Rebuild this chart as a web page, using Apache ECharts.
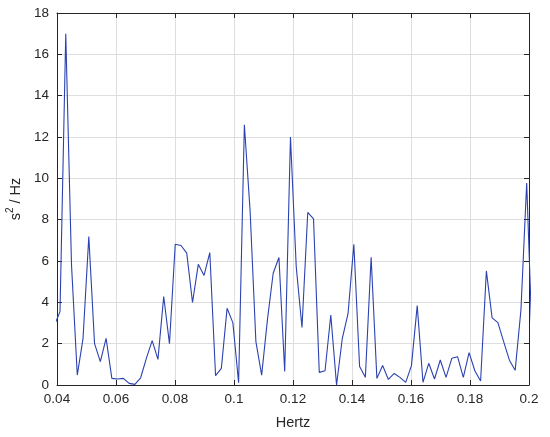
<!DOCTYPE html>
<html>
<head>
<meta charset="utf-8">
<script src="https://cdn.jsdelivr.net/npm/echarts@6/dist/echarts.min.js"></script>
<style>
  html, body { margin: 0; padding: 0; background: #fff; }
  #chart { width: 550px; height: 437px; }
</style>
</head>
<body>
<div id="chart"></div>
<script>
// spectrum bins: frequency = bin / 512 Hz
var binWidth = 1 / 512
var firstBin = 20
var psd = [
  2.87, 3.55, 17.0, 5.8, 0.48, 2.26, 7.18, 2.0, 1.13, 2.26,
  0.32, 0.29, 0.32, 0.08, 0.03, 0.35, 1.3, 2.15, 1.24, 4.28,
  2.0, 6.81, 6.75, 6.38, 3.99, 5.84, 5.3, 6.41, 0.45, 0.8,
  3.71, 3.02, 0.11, 12.59, 8.4, 2.1, 0.48, 3.15, 5.41, 6.17,
  0.65, 12.0, 5.73, 2.78, 8.35, 8.04, 0.61, 0.69, 3.39, 0.0,
  2.26, 3.47, 6.81, 0.89, 0.37, 6.18, 0.32, 0.94, 0.27, 0.56,
  0.37, 0.13, 0.94, 3.84, 0.13, 1.05, 0.29, 1.21, 0.37, 1.29,
  1.37, 0.37, 1.57, 0.69, 0.19, 5.52, 3.25, 3.02, 2.1, 1.2,
  0.71, 3.63, 9.77, 1.7
]
var xTicks = [0.04, 0.06, 0.08, 0.1, 0.12, 0.14, 0.16, 0.18, 0.2]
var yTicks = [0, 2, 4, 6, 8, 10, 12, 14, 16, 18]

var points = psd.map(function(v, i) {
  return [(firstBin + i) * binWidth, v]
})

var chart = echarts.init(document.getElementById('chart'))
var font = 'Arial, "Liberation Sans", Helvetica, sans-serif'
var axisColor = '#262626'
var gridColor = '#dedede'

function xAxisBase(pos) {
  return {
    type: 'value',
    position: pos,
    min: xTicks[0],
    max: xTicks[xTicks.length - 1],
    interval: 0.02,
    axisLine: { show: true, onZero: false, lineStyle: { color: axisColor, width: 1 } },
    axisTick: { show: true, inside: true, length: 5, lineStyle: { color: axisColor } }
  }
}
function yAxisBase(pos) {
  return {
    type: 'value',
    position: pos,
    min: yTicks[0],
    max: yTicks[yTicks.length - 1],
    interval: 2,
    axisLine: { show: true, onZero: false, lineStyle: { color: axisColor, width: 1 } },
    axisTick: { show: true, inside: true, length: 5, lineStyle: { color: axisColor } }
  }
}

var xBottom = xAxisBase('bottom')
xBottom.name = 'Hertz'
xBottom.nameLocation = 'middle'
xBottom.nameGap = 30
xBottom.nameTextStyle = { fontFamily: font, fontSize: 14.5, color: axisColor }
xBottom.axisLabel = {
  fontFamily: font, fontSize: 13.5, color: axisColor, margin: 7,
  formatter: function(v) { return String(+v.toFixed(2)) }
}
xBottom.splitLine = { show: true, lineStyle: { color: gridColor, width: 1 } }

var xTop = xAxisBase('top')
xTop.axisLabel = { show: false }
xTop.splitLine = { show: false }

var yLeft = yAxisBase('left')
yLeft.name = '{b|s}{sup|2}{b| / Hz}'
yLeft.nameLocation = 'middle'
yLeft.nameGap = 32
yLeft.nameTextStyle = {
  fontFamily: font, fontSize: 14.5, color: axisColor,
  rich: {
    b: { fontFamily: font, fontSize: 14.5, color: axisColor, verticalAlign: 'bottom', lineHeight: 18 },
    sup: { fontFamily: font, fontSize: 10, color: axisColor, verticalAlign: 'top', lineHeight: 18 }
  }
}
yLeft.axisLabel = { fontFamily: font, fontSize: 13.5, color: axisColor, margin: 8 }
yLeft.splitLine = { show: true, lineStyle: { color: gridColor, width: 1 } }

var yRight = yAxisBase('right')
yRight.axisLabel = { show: false }
yRight.splitLine = { show: false }

chart.setOption({
  backgroundColor: '#fff',
  animation: false,
  grid: { left: 57, right: 21, top: 13, bottom: 52, outerBoundsMode: 'none' },
  xAxis: [xBottom, xTop],
  yAxis: [yLeft, yRight],
  series: [
    {
      type: 'line',
      xAxisIndex: 0,
      yAxisIndex: 0,
      data: points,
      showSymbol: false,
      clip: true,
      lineStyle: { color: '#2b42b0', width: 1.1 }
    }
  ]
})
</script>
</body>
</html>
